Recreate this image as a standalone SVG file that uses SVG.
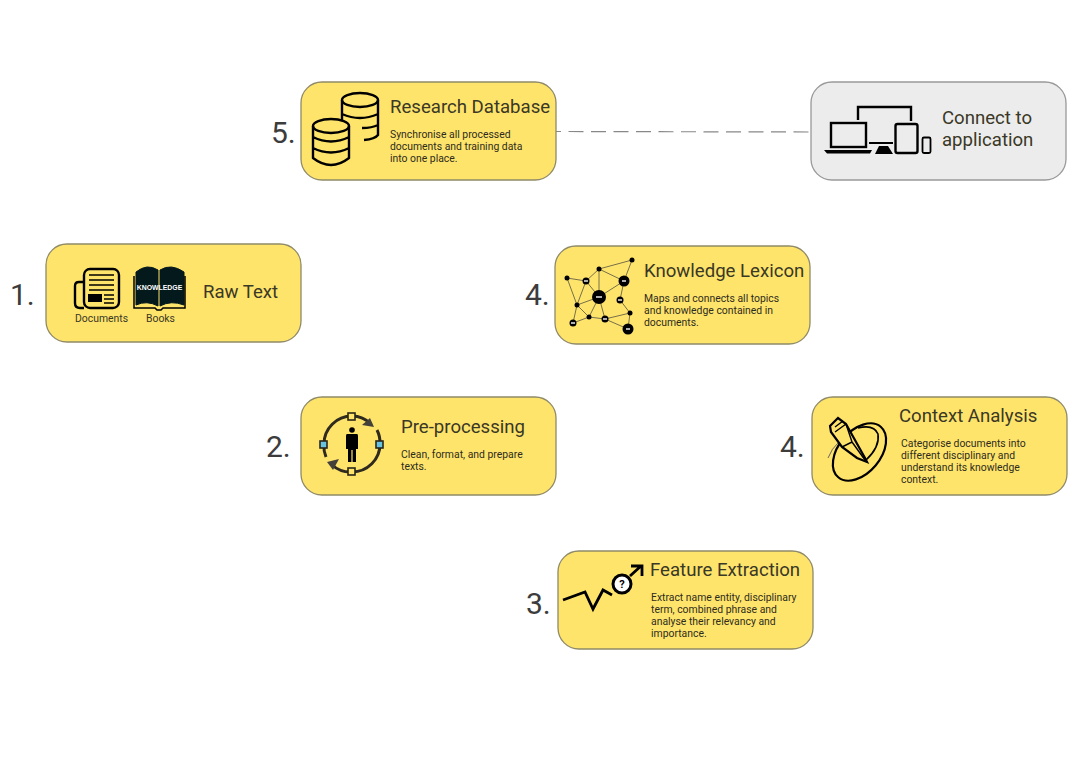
<svg xmlns="http://www.w3.org/2000/svg" width="1082" height="761" viewBox="0 0 1082 761">
<style>
.box{fill:#ffe46b;stroke:#8f8a68;stroke-width:1.3}
.gbox{fill:#ececec;stroke:#999;stroke-width:1.3}
text{font-family:Roboto,"Liberation Sans",sans-serif;fill:#3a3826}
.num{font-size:30px;fill:#3c3c3c}
.title{font-size:18.6px}
.body{font-size:10.4px;fill:#2e2c20}
.cap{font-size:10.4px}
.ln{fill:none;stroke:#000;stroke-width:2.4}
.th{fill:none;stroke:#000;stroke-width:1.5}
.edge{stroke:#77704a;stroke-width:1;fill:none}
.k{fill:#000}
</style>
<rect width="1082" height="761" fill="#fff"/>
<g id="connectors"><path d="M556 131.500L811 132" stroke="#888" stroke-width="1.2" stroke-dasharray="15 7.500" stroke-dashoffset="10" fill="none"/></g>

<g id="node-raw-text">
<rect class="box" x="46" y="244" width="255" height="98" rx="21"/>
<text class="num" x="10" y="305">1.</text>
<rect class="ln" x="84" y="269" width="35" height="39" rx="6"/>
<path class="ln" d="M84 282H79Q75 282 75 286V303Q75 308 80 308H84"/>
<path d="M89 275H114M89 280H114M89 285H114M89 290H114M104 295H114M104 299H114M104 303H114" stroke="#000" stroke-width="1.4"/>
<rect class="k" x="88" y="294" width="14" height="8"/>
<path d="M136 272Q147 263 158 270V306Q147 300 136 305Z" fill="#04191c" stroke="#04191c"/>
<path d="M160 270Q171 263 184 272V305Q171 300 160 306Z" fill="#04191c" stroke="#04191c"/>
<path class="th" d="M134 276V308H155L157 310H161L163 308H185V276"/>
<text x="159.500" y="289.500" text-anchor="middle" style="font-size:6.900px;font-weight:700;fill:#fff;font-family:'Liberation Sans',sans-serif">KNOWLEDGE</text>
<text class="cap" x="75" y="322">Documents</text>
<text class="cap" x="146" y="322">Books</text>
<text class="title" x="203" y="298">Raw Text</text>
</g>

<g id="node-research-database">
<rect class="box" x="301" y="82" width="255" height="98" rx="21"/>
<text class="num" x="271" y="143">5.</text>
<ellipse class="ln" cx="360" cy="100" rx="18" ry="7"/>
<path class="ln" d="M342 100V120M378 100V135Q375 139 364 140M342 114Q360 122 378 114M362 128Q372 128 378 125"/>
<ellipse cx="331" cy="126" rx="18" ry="7" fill="#ffe46b" stroke="#000" stroke-width="2.400"/>
<path class="ln" d="M313 126V158Q331 172 349 158V126M313 137Q331 146 349 137M313 148Q331 157 349 148"/>
<text class="title" x="390" y="113">Research Database</text>
<text class="body"><tspan x="390" y="138">Synchronise all processed</tspan><tspan x="390" y="150">documents and training data</tspan><tspan x="390" y="162">into one place.</tspan></text>
</g>

<g id="node-connect">
<rect class="gbox" x="811" y="82" width="255" height="98" rx="21"/>
<path class="ln" d="M858 120V107H911V121"/>
<rect class="ln" x="831" y="123" width="35" height="24"/>
<path d="M824 150H872L870 153.500H827Z" class="k"/>
<path d="M869 143H893" stroke="#000" stroke-width="2"/>
<path d="M875 154L879 146H888L893 154Z" class="k"/>
<rect class="ln" x="895.500" y="124" width="22" height="29" rx="2"/>
<rect x="922.500" y="137.500" width="8" height="15.500" rx="1.500" fill="none" stroke="#000" stroke-width="1.800"/>
<text class="title" x="942" y="124">Connect to</text>
<text class="title" x="942" y="146">application</text>
</g>

<g id="node-knowledge-lexicon">
<rect class="box" x="555" y="246" width="255" height="98" rx="21"/>
<text class="num" x="525" y="305">4.</text>
<path class="edge" d="M567 278L577 305L573 323M567 278L586 281L599 297L577 305L589 317L573 323M599 269L586 281M599 269L632 260L624 281M599 269L599 297L624 281L620 300M599 269L624 281M577 305L586 281M599 297L589 317L605 319L630 313L628 329L605 319M599 297L605 319M620 300L630 313"/>
<circle class="k" cx="567" cy="278" r="2.500"/><circle class="k" cx="599" cy="269" r="2.500"/><circle class="k" cx="632" cy="260" r="2.500"/><circle class="k" cx="577" cy="305" r="2.500"/><circle class="k" cx="589" cy="317" r="2.500"/><circle class="k" cx="630" cy="313" r="2.500"/>
<circle class="k" cx="586" cy="281" r="3.500"/><circle class="k" cx="624" cy="281" r="5.500"/><circle class="k" cx="599" cy="297" r="7"/><circle class="k" cx="620" cy="300" r="3.500"/><circle class="k" cx="573" cy="323" r="3.500"/><circle class="k" cx="605" cy="319" r="3.500"/><circle class="k" cx="628" cy="329" r="5.500"/>
<path d="M584 281h4M622 281h4M596 297h6M618 300h4M571 323h4M603 319h4M626 329h4" stroke="#e8e8e8" stroke-width="1.600"/>
<text class="title" x="644" y="277">Knowledge Lexicon</text>
<text class="body"><tspan x="644" y="302">Maps and connects all topics</tspan><tspan x="644" y="314">and knowledge contained in</tspan><tspan x="644" y="326">documents.</tspan></text>
</g>

<g id="node-preprocessing">
<rect class="box" x="301" y="397" width="255" height="98" rx="21"/>
<text class="num" x="266" y="457">2.</text>
<path d="M352 416A28 28 0 0 1 371 424M377 430A28 28 0 0 1 380 444A28 28 0 0 1 352 472A28 28 0 0 1 332 465M326 457A28 28 0 0 1 324 444A28 28 0 0 1 352 416" fill="none" stroke="#2e2a1e" stroke-width="3"/>
<path d="M374 427L362 425L370 418Z" fill="#44413a"/><path d="M327 462L339 459L333 470Z" fill="#44413a"/>
<rect x="348" y="413" width="7" height="7" fill="#ffe46b" stroke="#2a261a" stroke-width="1.600"/><rect x="348" y="468" width="7" height="7" fill="#ffe46b" stroke="#2a261a" stroke-width="1.600"/>
<rect x="320" y="441" width="7" height="7" fill="#67c3e0" stroke="#2a261a" stroke-width="1.600"/><rect x="376" y="441" width="7" height="7" fill="#67c3e0" stroke="#2a261a" stroke-width="1.600"/>
<circle class="k" cx="352" cy="430" r="2.800"/>
<path class="k" d="M347 434H357Q358 434 358 436V449H356V462H352.600V450H351.400V462H348V449H346V436Q346 434 347 434Z"/>
<text class="title" x="401" y="433">Pre-processing</text>
<text class="body"><tspan x="401" y="458">Clean, format, and prepare</tspan><tspan x="401" y="470">texts.</tspan></text>
</g>

<g id="node-context-analysis">
<rect class="box" x="812" y="397" width="255" height="98" rx="21"/>
<text class="num" x="780" y="457">4.</text>
<ellipse cx="859.500" cy="452" rx="21" ry="33" transform="rotate(40 859.500 452)" fill="none" stroke="#000" stroke-width="2.200"/>
<path d="M866 460Q880 447 878 434Q874 424 858 428" fill="none" stroke="#000" stroke-width="1.600"/>
<path d="M830 426L838 418L846 424L865 458L867 462L857 458L842 447L831 432Z" fill="#ffe46b" stroke="#000" stroke-width="2.200"/>
<path d="M835 427L843 421M835 432L846 424M842 447L852 442L865 460M852 442L846 424" fill="none" stroke="#000" stroke-width="1.400"/>
<path d="M838 443Q832 448 828 458" fill="none" stroke="#666" stroke-width="1"/>
<text class="title" x="899" y="422">Context Analysis</text>
<text class="body"><tspan x="901" y="447">Categorise documents into</tspan><tspan x="901" y="459">different disciplinary and</tspan><tspan x="901" y="471">understand its knowledge</tspan><tspan x="901" y="483">context.</tspan></text>
</g>

<g id="node-feature-extraction">
<rect class="box" x="558" y="551" width="255" height="98" rx="21"/>
<text class="num" x="526" y="614">3.</text>
<path d="M563 600L585 592L593 609L603 590L612 595M630 576L641 566M631 566H642V576" fill="none" stroke="#000" stroke-width="2.800"/>
<circle cx="622" cy="584" r="9" fill="#fff" stroke="#000" stroke-width="3"/>
<text x="622" y="588" text-anchor="middle" style="font-size:11px;font-weight:700;fill:#000">?</text>
<text class="title" x="650" y="576">Feature Extraction</text>
<text class="body"><tspan x="651" y="601">Extract name entity, disciplinary</tspan><tspan x="651" y="613">term, combined phrase and</tspan><tspan x="651" y="625">analyse their relevancy and</tspan><tspan x="651" y="637">importance.</tspan></text>
</g>
</svg>
